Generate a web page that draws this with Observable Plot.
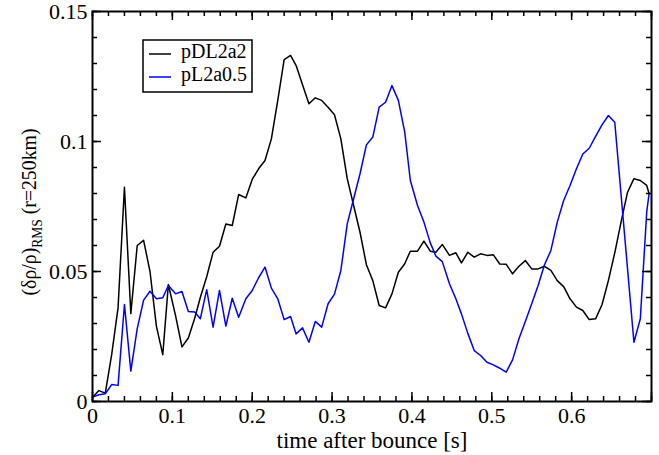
<!DOCTYPE html>
<html>
<head>
<meta charset="utf-8">
<script src="https://cdn.jsdelivr.net/npm/d3@7"></script>
<script src="https://cdn.jsdelivr.net/npm/@observablehq/plot@0.6"></script>
<style>
  html, body { margin: 0; padding: 0; background: #fff; }
  #chart { width: 659px; height: 455px; }
  #chart svg text { font-family: "Liberation Serif", "Times New Roman", serif; }
</style>
</head>
<body>
<div id="chart"></div>
<script>
// time after bounce [s]
const times = [0.0,0.008,0.016,0.024,0.032,0.040,0.048,0.056,0.064,0.072,0.080,0.088,0.095,0.104,0.112,0.120,0.128,0.135,0.143,0.151,0.159,0.167,0.175,0.183,0.192,0.200,0.208,0.216,0.224,0.232,0.240,0.248,0.255,0.263,0.271,0.279,0.287,0.295,0.303,0.311,0.319,0.327,0.335,0.343,0.351,0.359,0.367,0.375,0.383,0.391,0.398,0.407,0.415,0.423,0.430,0.438,0.447,0.455,0.462,0.470,0.478,0.486,0.494,0.502,0.510,0.518,0.526,0.534,0.542,0.550,0.558,0.566,0.574,0.582,0.590,0.598,0.606,0.614,0.622,0.630,0.638,0.646,0.654,0.662,0.670,0.678,0.686,0.694,0.697];

// pDL2a2 (black)
const pDL2a2 = [0.0015,0.0042,0.0032,0.018,0.036,0.0824,0.0338,0.060,0.062,0.050,0.029,0.018,0.045,0.033,0.021,0.0244,0.032,0.040,0.048,0.0574,0.0597,0.0683,0.0677,0.0796,0.0783,0.0854,0.0895,0.0927,0.101,0.1158,0.1315,0.1331,0.1292,0.1218,0.1145,0.1168,0.1158,0.1132,0.1103,0.101,0.0857,0.0754,0.0651,0.0526,0.0465,0.0369,0.036,0.0414,0.0497,0.053,0.0578,0.0578,0.0617,0.0578,0.0574,0.0604,0.0562,0.0572,0.0533,0.0574,0.0555,0.0568,0.0562,0.0564,0.0529,0.0528,0.0491,0.052,0.0542,0.051,0.051,0.052,0.0504,0.0465,0.0442,0.0395,0.0363,0.035,0.0315,0.0318,0.0372,0.0465,0.0572,0.0692,0.0805,0.0857,0.085,0.0831,0.0799];

// pL2a0.5 (blue)
const pL2a05 = [0.0017,0.0026,0.003,0.0065,0.0062,0.0373,0.0117,0.028,0.039,0.0424,0.0395,0.0399,0.0446,0.0414,0.0423,0.0346,0.0344,0.0318,0.043,0.0286,0.0427,0.029,0.0397,0.0324,0.0395,0.0427,0.0476,0.0517,0.0436,0.0395,0.0315,0.0327,0.026,0.0283,0.0228,0.0308,0.0286,0.0376,0.0413,0.0504,0.0683,0.078,0.0876,0.0987,0.1017,0.1132,0.1151,0.1215,0.1158,0.1036,0.085,0.0754,0.069,0.061,0.0559,0.0538,0.0453,0.0395,0.0337,0.0262,0.0196,0.0177,0.0151,0.0141,0.0128,0.0113,0.016,0.0241,0.0308,0.0376,0.0446,0.0526,0.0581,0.069,0.0773,0.0831,0.0895,0.0952,0.0974,0.102,0.1064,0.11,0.1074,null,null,0.0228,0.0318,0.0728,0.08];

const seriesNames = ["pDL2a2", "pL2a0.5"];
const seriesColors = ["#000000", "#0000ff"];

const xTickLabels = [0, 0.1, 0.2, 0.3, 0.4, 0.5, 0.6];
const yTickLabels = [0, 0.05, 0.1, 0.15];

const xLabel = "time after bounce [s]";

// build table
const rows = [];
[pDL2a2, pL2a05].forEach((vals, si) => {
  vals.forEach((v, i) => { if (v != null) rows.push({t: times[i], v, s: seriesNames[si]}); });
});

const W = 659, H = 455;
const mL = 92, mR = 8, mT = 11, mB = 54;
const innerW = W - mL - mR, innerH = H - mT - mB;
const majLen = 9, minLen = 5;

const xMajor = d3.range(0, 0.7001, 0.1);
const xMinor = d3.range(0, 0.7001, 0.02);
const yMajor = d3.range(0, 0.1501, 0.05);
const yMinor = d3.range(0, 0.1501, 0.01);

const plot = Plot.plot({
  width: W, height: H,
  marginLeft: mL, marginRight: mR, marginTop: mT, marginBottom: mB,
  style: {fontFamily: "'Liberation Serif', 'Times New Roman', serif", fontSize: "22px", color: "#000", background: "#fff"},
  x: {domain: [0, 0.7], ticks: xTickLabels, tickSize: 0, tickPadding: 6, tickFormat: d => String(d), label: null},
  y: {domain: [0, 0.15], ticks: yTickLabels, tickSize: 0, tickPadding: 5, tickFormat: d => String(d), label: null},
  color: {domain: seriesNames, range: seriesColors},
  marks: [
    Plot.line(rows, {x: "t", y: "v", z: "s", stroke: "s", strokeWidth: 1.5}),
    Plot.tickX(xMinor, {x: d => d, insetTop: innerH - minLen, stroke: "#000", strokeWidth: 1.5}),
    Plot.tickX(xMinor, {x: d => d, insetBottom: innerH - minLen, stroke: "#000", strokeWidth: 1.5}),
    Plot.tickX(xMajor, {x: d => d, insetTop: innerH - majLen, stroke: "#000", strokeWidth: 1.5}),
    Plot.tickX(xMajor, {x: d => d, insetBottom: innerH - majLen, stroke: "#000", strokeWidth: 1.5}),
    Plot.tickY(yMinor, {y: d => d, insetRight: innerW - minLen, stroke: "#000", strokeWidth: 1.5}),
    Plot.tickY(yMinor, {y: d => d, insetLeft: innerW - minLen, stroke: "#000", strokeWidth: 1.5}),
    Plot.tickY(yMajor, {y: d => d, insetRight: innerW - majLen, stroke: "#000", strokeWidth: 1.5}),
    Plot.tickY(yMajor, {y: d => d, insetLeft: innerW - majLen, stroke: "#000", strokeWidth: 1.5}),
    Plot.frame({stroke: "#000", strokeWidth: 2}),
    Plot.text([xLabel], {text: d => d, frameAnchor: "bottom", dy: 46, lineAnchor: "bottom", fontSize: 23, fill: "#000"})
  ]
});

const svg = d3.select(plot);
// y axis title with subscript (compressed along its length to match reference)
const yt = svg.append("text")
  .attr("transform", `translate(36, 212) rotate(-90) scale(0.9, 1)`)
  .attr("text-anchor", "middle")
  .attr("font-size", 22)
  .attr("fill", "#000");
yt.append("tspan").text("(δρ/ρ)");
yt.append("tspan").attr("font-size", 15).attr("dy", 6).text("RMS");
yt.append("tspan").attr("dy", -6).text(" (r=250km)");

// legend
const lg = svg.append("g").attr("font-size", 20).attr("text-anchor", "start");
lg.append("rect").attr("x", 143).attr("y", 40).attr("width", 109).attr("height", 52)
  .attr("fill", "#fff").attr("stroke", "#000").attr("stroke-width", 1.5);
seriesNames.forEach((name, i) => {
  const yy = 54 + i * 23;
  lg.append("line").attr("x1", 149).attr("x2", 171).attr("y1", yy).attr("y2", yy)
    .attr("stroke", seriesColors[i]).attr("stroke-width", 1.5);
  lg.append("text").attr("x", 181).attr("y", yy + 4).attr("fill", "#000")
    .attr("text-anchor", "start").text(name);
});

document.getElementById("chart").appendChild(plot);
</script>
</body>
</html>
